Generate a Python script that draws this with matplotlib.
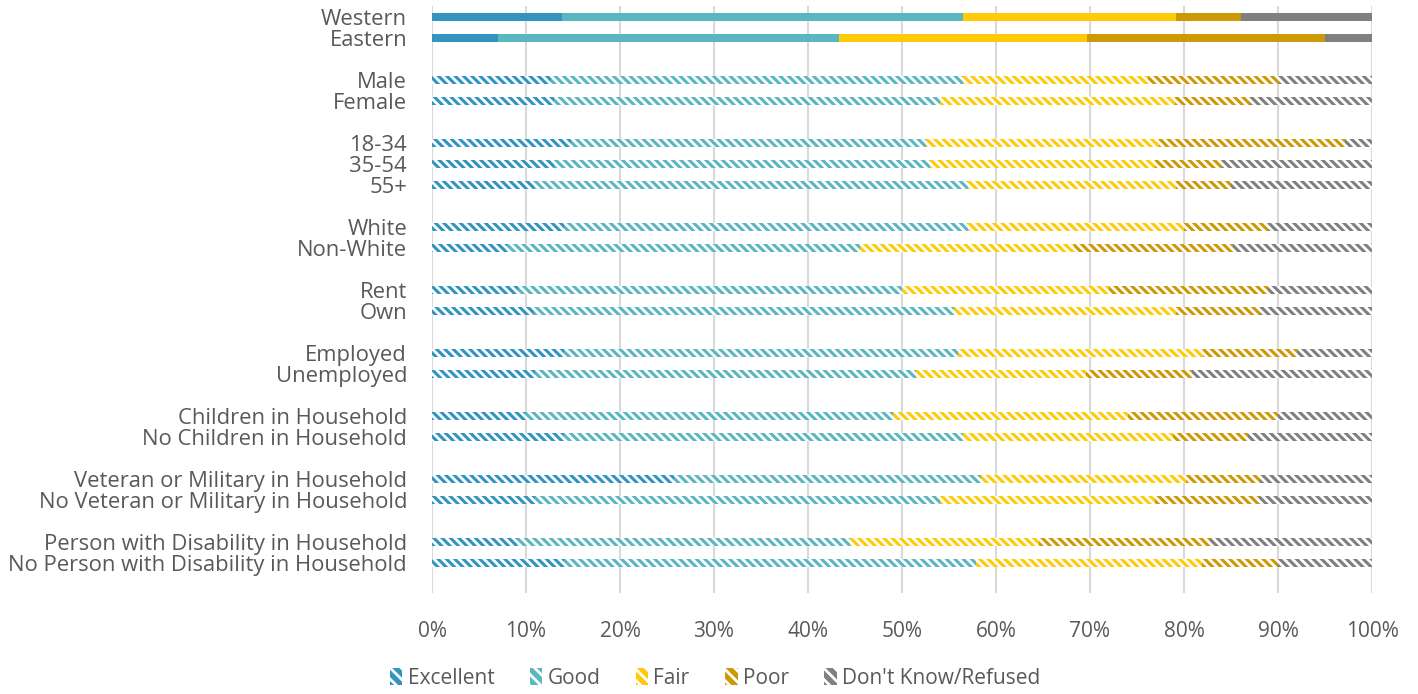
import matplotlib
matplotlib.use("Agg")
import matplotlib.pyplot as plt
import numpy as np

# Row labels (None = spacer row between groups)
labels = ["Western", "Eastern", None,
          "Male", "Female", None,
          "18-34", "35-54", "55+", None,
          "White", "Non-White", None,
          "Rent", "Own", None,
          "Employed", "Unemployed", None,
          "Children in Household", "No Children in Household", None,
          "Veteran or Military in Household", "No Veteran or Military in Household", None,
          "Person with Disability in Household", "No Person with Disability in Household"]

series = ["Excellent", "Good", "Fair", "Poor", "Don't Know/Refused"]

# percent values per row, order: Excellent, Good, Fair, Poor, Don't Know/Refused
excellent = [13.8, 7.0, None, 12.7, 13.0, None, 14.8, 13.0, 10.9, None, 14.0, 8.0, None,
             9.1, 10.9, None, 14.0, 11.0, None, 9.9, 14.0, None, 25.7, 11.0, None, 9.0, 14.0]
good = [42.7, 36.3, None, 43.8, 41.0, None, 37.7, 40.0, 46.1, None, 43.0, 37.5, None,
        40.9, 44.6, None, 42.0, 40.5, None, 39.1, 42.5, None, 32.7, 43.0, None, 35.5, 43.9]
fair = [22.6, 26.4, None, 19.7, 25.0, None, 24.8, 23.9, 22.1, None, 23.0, 22.8, None,
        22.0, 23.7, None, 26.0, 18.1, None, 25.0, 22.3, None, 21.8, 22.9, None, 20.1, 24.0]
poor = [7.0, 25.3, None, 13.9, 8.0, None, 19.8, 7.1, 5.9, None, 8.9, 16.9, None,
        16.9, 8.9, None, 10.0, 11.3, None, 16.0, 8.0, None, 7.9, 11.1, None, 18.2, 8.1]
dont_know = [13.9, 5.0, None, 9.9, 13.0, None, 2.9, 16.0, 15.0, None, 11.1, 14.8, None,
             11.1, 11.9, None, 8.0, 19.1, None, 10.0, 13.2, None, 11.9, 12.0, None, 17.2, 10.0]

colors = ["#3395BF", "#5BB7BF", "#FFCA08", "#CC9A06", "#808080"]
text_color = "#595959"

plt.rcParams["font.family"] = ["Open Sans", "DejaVu Sans"]
plt.rcParams["hatch.linewidth"] = 2.0

fig = plt.figure(figsize=(14.18, 6.94), dpi=100)
ax = fig.add_axes([432/1418, 1-593/694, 940/1418, 587/694])

data = [excellent, good, fair, poor, dont_know]
ypos = np.arange(len(labels))
rows = [i for i, l in enumerate(labels) if l is not None]

left = np.zeros(len(labels))
for k, (name, vals) in enumerate(zip(series, data)):
    v = np.array([0 if x is None else x for x in vals], dtype=float)
    for i in rows:
        solid = i < 2  # region rows drawn solid
        ax.barh(ypos[i], v[i], left=left[i], height=0.42, color=colors[k],
                edgecolor="white", linewidth=0,
                hatch=None if solid else "\\\\\\\\", zorder=3)
    left += v

# legend handles
handles = [plt.Rectangle((0, 0), 1, 1, facecolor=c, edgecolor="white",
                         linewidth=0, hatch="\\\\\\") for c in colors]
fig.legend(handles, series, loc="center", bbox_to_anchor=(715/1418, 1-678/694),
           ncol=5, frameon=False, fontsize=15, labelcolor=text_color,
           handlelength=0.6, handleheight=0.9, handletextpad=0.25, columnspacing=1.7)

ax.set_xlim(0, 100)
ax.set_ylim(len(labels) + 0.43, -0.52)
ax.set_xticks(np.arange(0, 101, 10))
ax.set_xticklabels([f"{t}%" for t in range(0, 101, 10)])
ax.set_yticks(rows)
ax.set_yticklabels([labels[i] for i in rows], fontsize=15.8)
ax.tick_params(axis="both", length=0, colors=text_color)
ax.tick_params(axis="x", pad=20, labelsize=15)
ax.tick_params(axis="y", pad=18)
ax.xaxis.grid(True, color="#D9D9D9", linewidth=1.5, zorder=0)
ax.set_axisbelow(True)
for s in ax.spines.values():
    s.set_visible(False)

fig.savefig("out.png", dpi=100)
